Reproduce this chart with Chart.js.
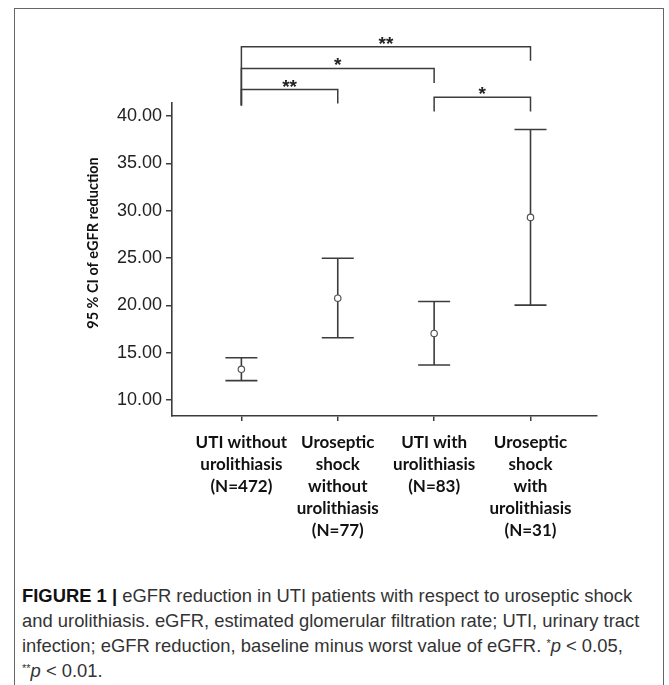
<!DOCTYPE html>
<html lang="en">
<head>
<meta charset="UTF-8">
<title>eGFR reduction</title>
<script src="https://cdn.jsdelivr.net/npm/chart.js"></script>
<style>
    body { margin: 0; background: #fff; }
    #frame {
        position: absolute; left: 14px; top: 8px;
        width: 648px; height: 700px;
        border: 1.5px solid #666;
    }
    #wrap {
        position: absolute; left: 0; top: 0;
        width: 669px; height: 580px;
    }
    #caption {
        position: absolute; left: 22px; top: 583px;
        font-family: "Liberation Sans", Arial, sans-serif;
        font-size: 18.4px; line-height: 25px; color: #333;
        white-space: nowrap;
    }
    #caption b { color: #111; }
    #caption sup { font-size: 11px; line-height: 0; vertical-align: 0.45em; }
</style>
</head>
<body>
    <div id="frame"></div>
    <div id="wrap"><canvas id="myChart"></canvas></div>
    <div id="caption">
        <b>FIGURE 1 |</b> eGFR reduction in UTI patients with respect to uroseptic shock<br>
        and urolithiasis. eGFR, estimated glomerular filtration rate; UTI, urinary tract<br>
        infection; eGFR reduction, baseline minus worst value of eGFR. <sup>*</sup><i>p</i> &lt; 0.05,<br>
        <sup>**</sup><i>p</i> &lt; 0.01.
    </div>

<script>
    // categories (multi-line tick labels)
    const groups = [
        ["UTI without", "urolithiasis", "(N=472)"],
        ["Uroseptic", "shock", "without", "urolithiasis", "(N=77)"],
        ["UTI with", "urolithiasis", "(N=83)"],
        ["Uroseptic", "shock", "with", "urolithiasis", "(N=31)"]
    ];
    // mean and 95% CI bounds
    const means = [13.24, 20.76, 17.03, 29.3];
    const ciLow = [12.04, 16.57, 13.69, 20.02];
    const ciHigh = [14.46, 24.98, 20.41, 38.59];
    const yTicks = [10, 15, 20, 25, 30, 35, 40];

    // significance brackets (group index from/to, bar level, leg ends, label)
    const brFrom = [0, 0, 0, 2];
    const brTo = [3, 2, 1, 3];
    const brLevel = [47.35, 45.06, 42.82, 42.0];
    const brLeftEnd = [41.13, 41.13, 41.13, 40.5];
    const brRightEnd = [45.88, 43.52, 41.34, 40.5];
    const brLabel = ["**", "*", "**", "*"];

    const ink = '#3c3c3c';

    const extras = {
        id: 'extras',
        beforeDatasetsDraw(chart) {
            const { ctx, scales: { x, y } } = chart;
            ctx.save();
            ctx.strokeStyle = ink;
            ctx.lineWidth = 1.6;
            means.forEach((m, i) => {
                const px = x.getPixelForValue(i);
                const lo = y.getPixelForValue(ciLow[i]);
                const hi = y.getPixelForValue(ciHigh[i]);
                ctx.beginPath();
                ctx.moveTo(px, lo); ctx.lineTo(px, hi);
                ctx.moveTo(px - 16, lo); ctx.lineTo(px + 16, lo);
                ctx.moveTo(px - 16, hi); ctx.lineTo(px + 16, hi);
                ctx.stroke();
            });
            ctx.restore();
        },
        afterDraw(chart) {
            const { ctx, scales: { x, y } } = chart;
            ctx.save();
            ctx.strokeStyle = ink;
            ctx.lineWidth = 1.5;
            ctx.fillStyle = '#222';
            ctx.font = 'bold 19px "Liberation Sans"';
            ctx.textAlign = 'center';
            ctx.textBaseline = 'alphabetic';
            brFrom.forEach((f, i) => {
                const x1 = x.getPixelForValue(f);
                const x2 = x.getPixelForValue(brTo[i]);
                const yl = y.getPixelForValue(brLevel[i]);
                ctx.beginPath();
                ctx.moveTo(x1, y.getPixelForValue(brLeftEnd[i]));
                ctx.lineTo(x1, yl);
                ctx.lineTo(x2, yl);
                ctx.lineTo(x2, y.getPixelForValue(brRightEnd[i]));
                ctx.stroke();
                ctx.fillText(brLabel[i], (x1 + x2) / 2, yl + 3);
            });
            // y axis title
            ctx.translate(93, 243);
            ctx.rotate(-Math.PI / 2);
            ctx.font = 'bold 14.5px Lato';
            ctx.fillStyle = '#111';
            ctx.textBaseline = 'middle';
            ctx.fillText('95 % CI of eGFR reduction', 0, 0);
            ctx.restore();
        }
    };

    new Chart(document.getElementById('myChart'), {
        type: 'scatter',
        data: {
            datasets: [{
                data: means.map((m, i) => ({ x: i, y: m })),
                pointRadius: 3.2,
                pointBorderWidth: 1.2,
                pointBorderColor: '#555',
                pointBackgroundColor: '#fff'
            }]
        },
        options: {
            responsive: true,
            maintainAspectRatio: false,
            animation: false,
            layout: { padding: { left: 0, right: 72, top: 103, bottom: 0 } },
            plugins: { legend: { display: false }, tooltip: { enabled: false } },
            scales: {
                x: {
                    type: 'linear',
                    min: -0.72,
                    max: 3.69,
                    afterBuildTicks: s => { s.ticks = groups.map((g, i) => ({ value: i })); },
                    afterFit: s => { s.height = 164; },
                    grid: { drawOnChartArea: false, tickLength: 5, color: ink, lineWidth: 1.5 },
                    border: { color: ink, width: 1.6 },
                    ticks: {
                        padding: 10,
                        maxRotation: 0,
                        color: '#111',
                        font: { family: 'Lato', weight: 'bold', size: 17, lineHeight: 1.3 },
                        callback: v => groups[v]
                    }
                },
                y: {
                    min: 8.3,
                    max: 41.4,
                    afterBuildTicks: s => { s.ticks = yTicks.map(v => ({ value: v })); },
                    afterFit: s => { s.width = 172; },
                    grid: { drawOnChartArea: false, tickLength: 6, color: ink, lineWidth: 1.5 },
                    border: { color: ink, width: 1.6 },
                    ticks: {
                        padding: 4,
                        color: '#222',
                        font: { family: 'Liberation Sans', size: 18 },
                        callback: v => v.toFixed(2)
                    }
                }
            }
        },
        plugins: [extras]
    });
</script>
</body>
</html>
